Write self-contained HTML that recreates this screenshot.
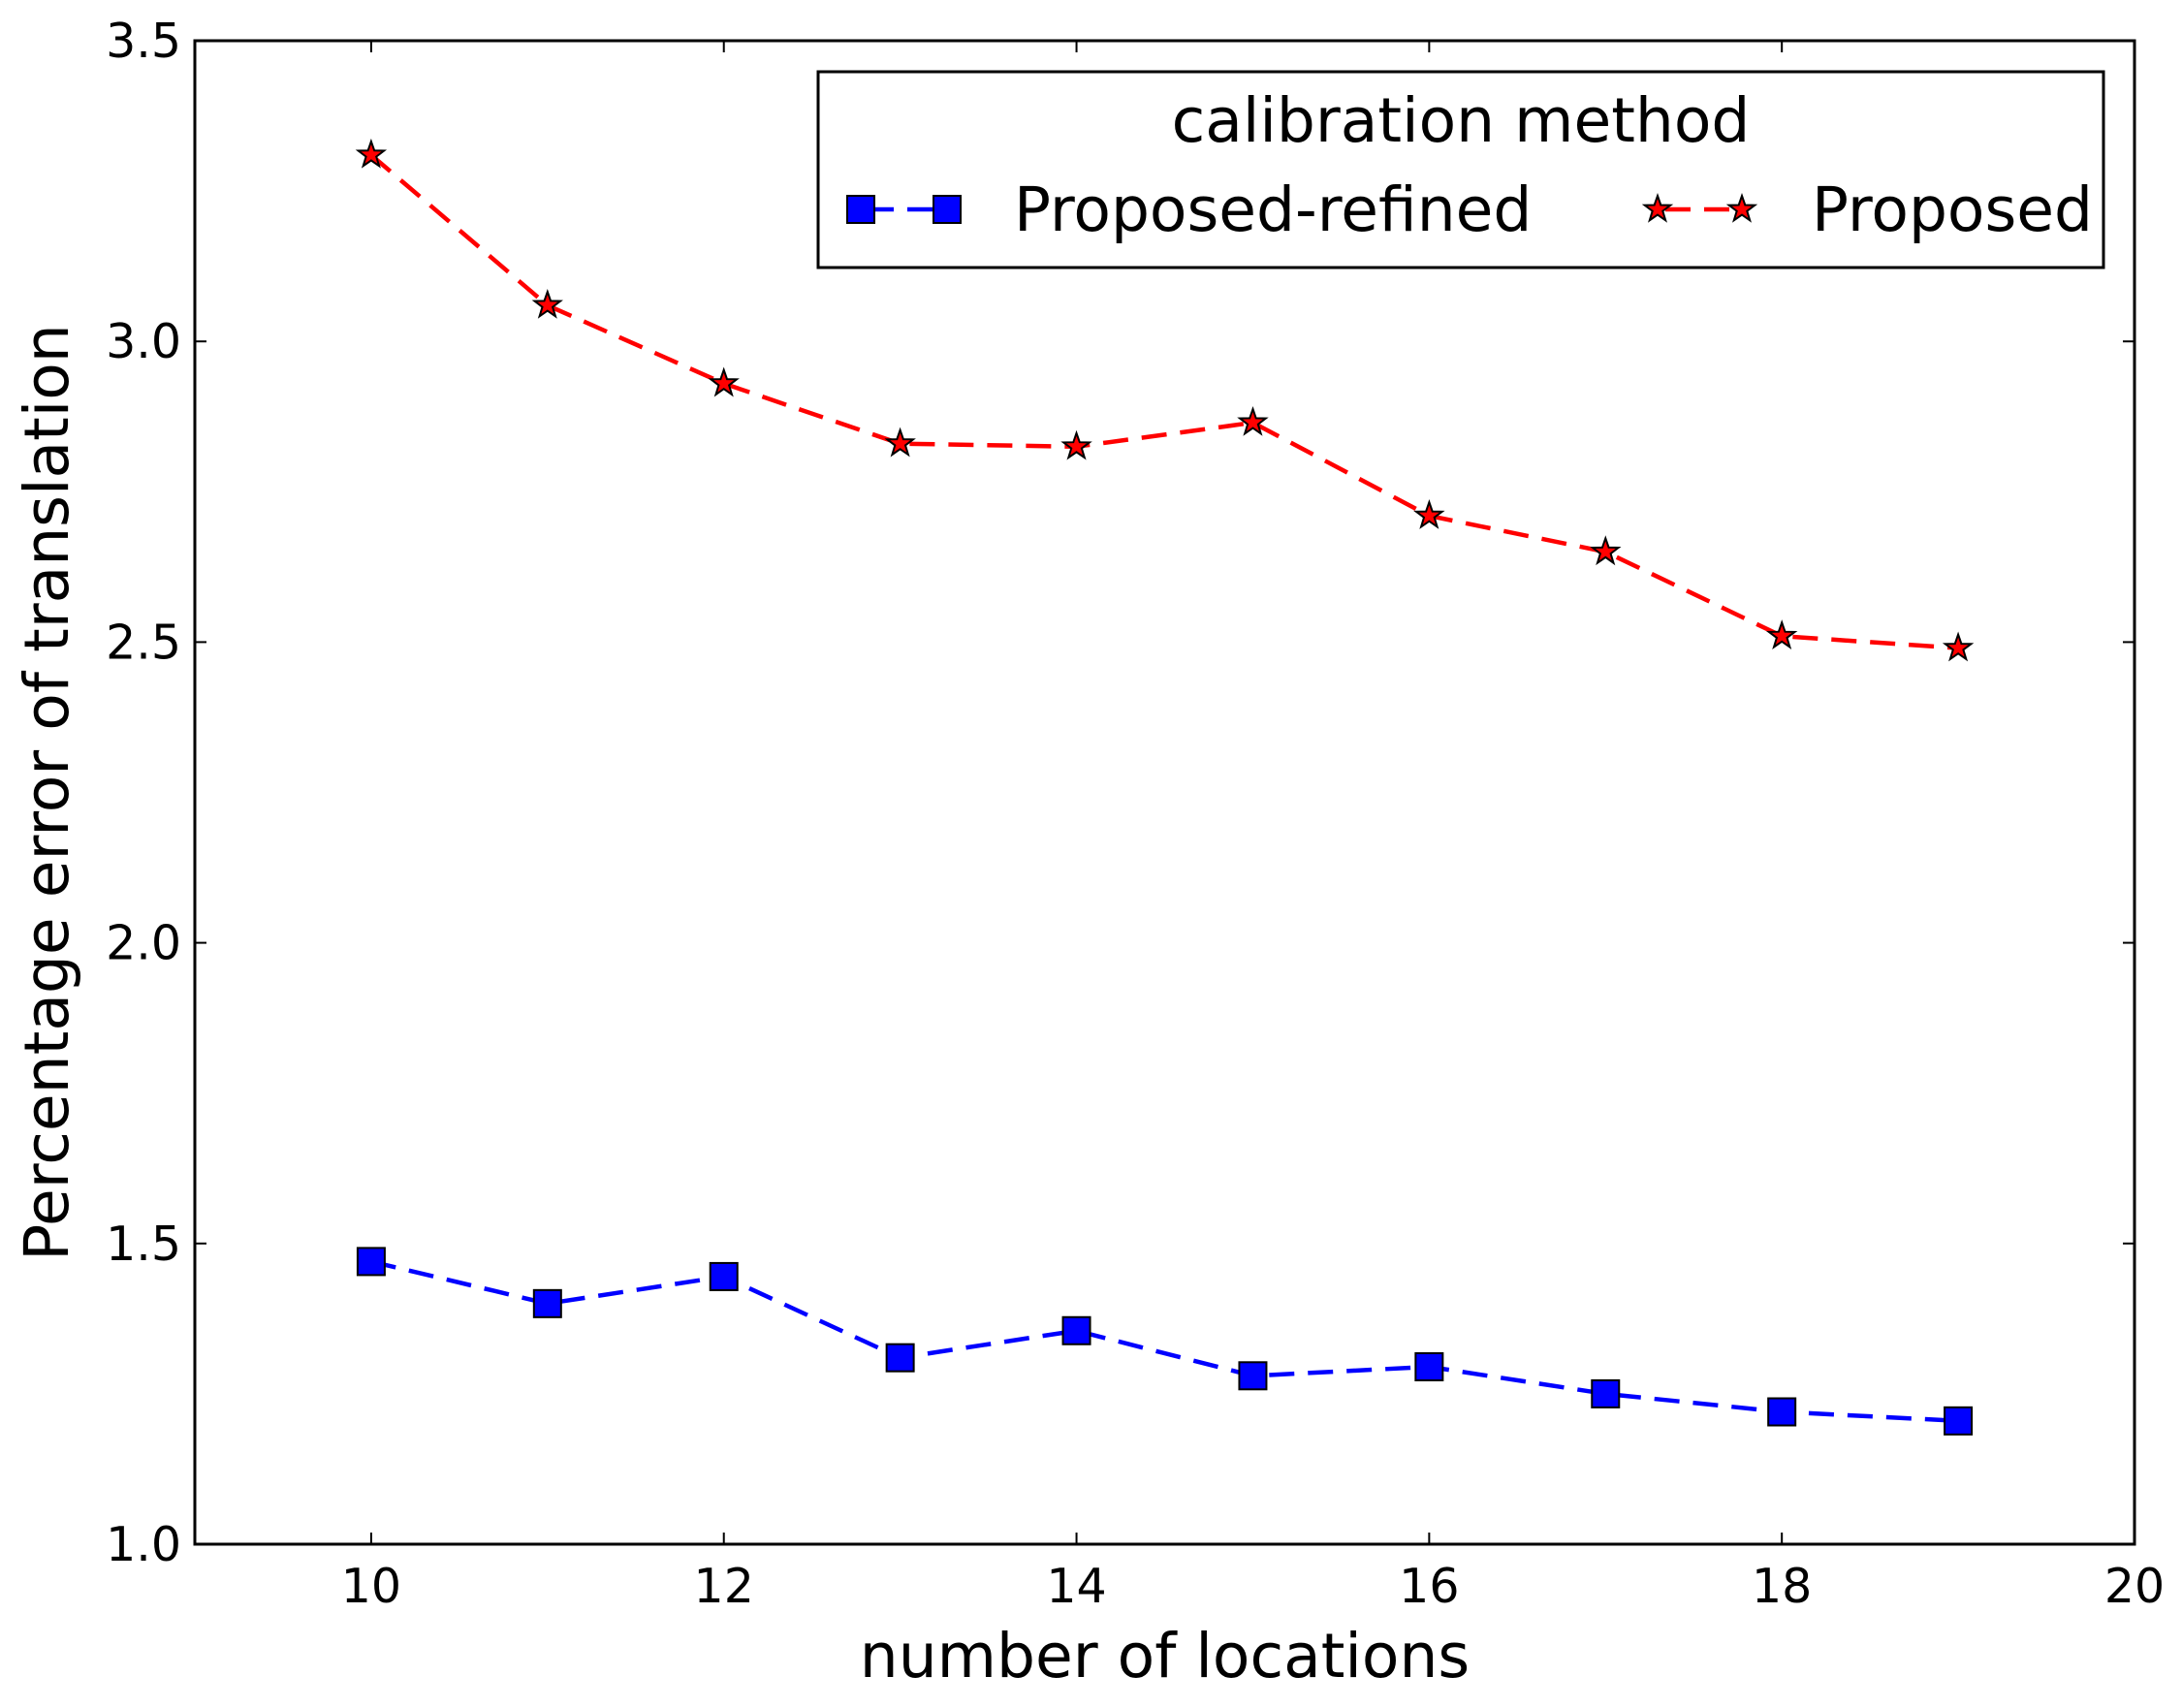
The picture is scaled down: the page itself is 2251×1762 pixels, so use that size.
<!DOCTYPE html>
<html><head><meta charset="utf-8"><style>
html,body{margin:0;padding:0;background:#fff;}
svg text{font-family:"DejaVu Sans","Liberation Sans",sans-serif;fill:#000;}
</style></head><body>
<svg id="chart" width="2251" height="1757" viewBox="0 0 2251 1757" xmlns="http://www.w3.org/2000/svg">
<rect width="2251" height="1757" fill="#fff"/>
<g id="plot"></g>
</svg>
<script>
const categories = [10, 11, 12, 13, 14, 15, 16, 17, 18, 19];
const proposedValues = [3.31, 3.06, 2.93, 2.83, 2.825, 2.865, 2.71, 2.65, 2.51, 2.49];
const refinedValues = [1.47, 1.40, 1.445, 1.31, 1.355, 1.28, 1.295, 1.25, 1.22, 1.205];
const xTicks = [10, 12, 14, 16, 18, 20];
const yTicks = [1.0, 1.5, 2.0, 2.5, 3.0, 3.5];

const L = 201, R = 2202, T = 42, B = 1593;
const xMin = 9, xMax = 20, yMin = 1.0, yMax = 3.5;
function sx(v){ return L + (v - xMin) / (xMax - xMin) * (R - L); }
function sy(v){ return B - (v - yMin) / (yMax - yMin) * (B - T); }

const NS = "http://www.w3.org/2000/svg";
const g = document.getElementById('plot');
function mk(tag, attrs, parent){
  const e = document.createElementNS(NS, tag);
  for (const k in attrs) e.setAttribute(k, attrs[k]);
  (parent || g).appendChild(e);
  return e;
}
function starPts(cx, cy, r){
  const p = [];
  for (let i = 0; i < 10; i++){
    const a = -Math.PI/2 + i*Math.PI/5;
    const rr = i % 2 ? r*0.4 : r;
    p.push((cx + rr*Math.cos(a)).toFixed(1) + ',' + (cy + rr*Math.sin(a)).toFixed(1));
  }
  return p.join(' ');
}

xTicks.forEach(v => {
  const x = sx(v);
  let t = mk('line', {x1:x, y1:B, x2:x, y2:B-12, stroke:'#000', 'stroke-width':2});
  
  
  mk('line', {x1:x, y1:T, x2:x, y2:T+12, stroke:'#000', 'stroke-width':2});
  const lb = mk('text', {x:x, y:B+60, 'font-size':49, 'text-anchor':'middle'});
  lb.textContent = String(v);
  
  
});
yTicks.forEach(v => {
  const y = sy(v);
  let t = mk('line', {x1:L, y1:y, x2:L+12, y2:y, stroke:'#000', 'stroke-width':2});
  
  
  mk('line', {x1:R, y1:y, x2:R-12, y2:y, stroke:'#000', 'stroke-width':2});
  const lb = mk('text', {x:L-14, y:y+17, 'font-size':49, 'text-anchor':'end'});
  lb.textContent = v.toFixed(1);
  
  
});

function linePath(vals){
  return vals.map((v,i) => (i ? 'L' : 'M') + sx(categories[i]).toFixed(1) + ',' + sy(v).toFixed(1)).join(' ');
}
const lr = mk('path', {d:linePath(refinedValues), fill:'none', stroke:'#0000ff', 'stroke-width':4.5, 'stroke-dasharray':'26,14'});


const lp = mk('path', {d:linePath(proposedValues), fill:'none', stroke:'#ff0000', 'stroke-width':4.5, 'stroke-dasharray':'26,14'});



refinedValues.forEach((v,i) => {
  const m = mk('rect', {x:sx(categories[i])-14, y:sy(v)-14, width:28, height:28, fill:'#0000ff', stroke:'#000', 'stroke-width':2});
  
  
});
proposedValues.forEach((v,i) => {
  const m = mk('polygon', {points:starPts(sx(categories[i]), sy(v), 14), fill:'#ff0000', stroke:'#000', 'stroke-width':2});
  
  
});

const fr = mk('rect', {x:L, y:T, width:R-L, height:B-T, fill:'none', stroke:'#000', 'stroke-width':3});



const xt = mk('text', {x:(L+R)/2, y:1730, 'font-size':63, 'text-anchor':'middle'});
xt.textContent = 'number of locations';


const yt = mk('text', {x:0, y:0, 'font-size':63, 'text-anchor':'middle', transform:'translate(70,' + ((T+B)/2) + ') rotate(-90)'});
yt.textContent = 'Percentage error of translation';



const lg = mk('g', {});


mk('rect', {x:844, y:74, width:1326, height:202, fill:'#fff', stroke:'#000', 'stroke-width':3}, lg);
const ltt = mk('text', {x:1507, y:146, 'font-size':63, 'text-anchor':'middle'}, lg);
ltt.textContent = 'calibration method';


const e1 = mk('g', {}, lg);


mk('line', {x1:888, y1:216, x2:977, y2:216, stroke:'#0000ff', 'stroke-width':4.5, 'stroke-dasharray':'26,14', 'stroke-dashoffset':-8}, e1);
mk('rect', {x:874, y:202, width:28, height:28, fill:'#0000ff', stroke:'#000', 'stroke-width':2}, e1);
mk('rect', {x:963, y:202, width:28, height:28, fill:'#0000ff', stroke:'#000', 'stroke-width':2}, e1);
const t1 = mk('text', {x:1046, y:238, 'font-size':63}, e1);
t1.textContent = 'Proposed-refined';
const e2 = mk('g', {}, lg);


mk('line', {x1:1710, y1:216, x2:1797, y2:216, stroke:'#ff0000', 'stroke-width':4.5, 'stroke-dasharray':'26,14', 'stroke-dashoffset':-8}, e2);
mk('polygon', {points:starPts(1710,216,14), fill:'#ff0000', stroke:'#000', 'stroke-width':2}, e2);
mk('polygon', {points:starPts(1797,216,14), fill:'#ff0000', stroke:'#000', 'stroke-width':2}, e2);
const t2 = mk('text', {x:1869, y:238, 'font-size':63}, e2);
t2.textContent = 'Proposed';
</script>
</body></html>
